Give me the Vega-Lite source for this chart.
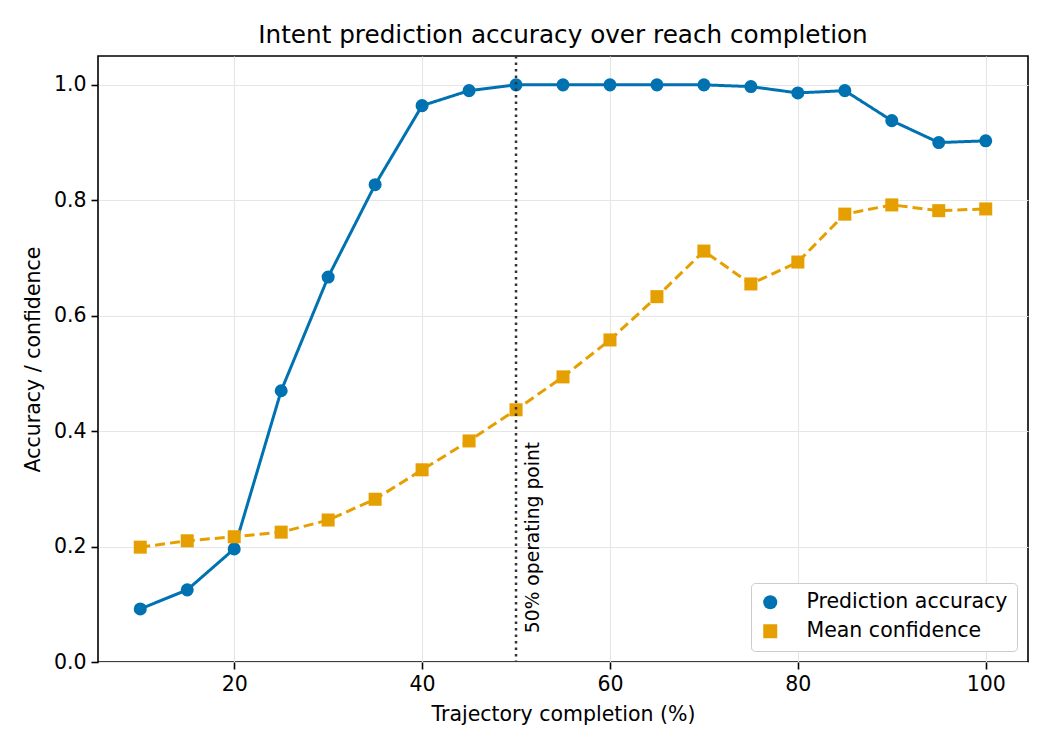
{
  "$schema": "https://vega.github.io/schema/vega-lite/v6.json",
  "width": 930,
  "height": 606,
  "autosize": "none",
  "padding": {"left": 98, "top": 56, "right": 22, "bottom": 88},
  "background": "white",
  "title": {"text": "Intent prediction accuracy over reach completion", "font": "DejaVu Sans", "fontSize": 24.7, "fontWeight": "normal", "color": "#000", "offset": 7},
  "config": {
    "font": "DejaVu Sans",
    "view": {"stroke": "#000", "strokeWidth": 1.6},
    "axis": {"labelFont": "DejaVu Sans", "titleFont": "DejaVu Sans", "labelFontSize": 20.5, "titleFontSize": 20.5, "titleFontWeight": "normal", "labelColor": "#000", "titleColor": "#000", "tickColor": "#000", "tickWidth": 1.6, "domain": false, "gridColor": "#e6e6e6", "gridWidth": 1.2, "tickSize": 7, "labelPadding": 5},
    "legend": {"labelFont": "DejaVu Sans", "labelFontSize": 20.5, "labelColor": "#000", "labelLimit": 400, "orient": "bottom-right", "offset": 11, "symbolSize": 196, "symbolStrokeWidth": 0, "strokeColor": "#cccccc", "fillColor": "white", "padding": 9, "cornerRadius": 4, "rowPadding": 8, "symbolOpacity": 1, "labelOffset": 26}
  },
  "data": {"values": [
    {"x": 10, "y": 0.092, "series": "Prediction accuracy"},
    {"x": 15, "y": 0.125, "series": "Prediction accuracy"},
    {"x": 20, "y": 0.196, "series": "Prediction accuracy"},
    {"x": 25, "y": 0.470, "series": "Prediction accuracy"},
    {"x": 30, "y": 0.667, "series": "Prediction accuracy"},
    {"x": 35, "y": 0.827, "series": "Prediction accuracy"},
    {"x": 40, "y": 0.964, "series": "Prediction accuracy"},
    {"x": 45, "y": 0.990, "series": "Prediction accuracy"},
    {"x": 50, "y": 1.0, "series": "Prediction accuracy"},
    {"x": 55, "y": 1.0, "series": "Prediction accuracy"},
    {"x": 60, "y": 1.0, "series": "Prediction accuracy"},
    {"x": 65, "y": 1.0, "series": "Prediction accuracy"},
    {"x": 70, "y": 1.0, "series": "Prediction accuracy"},
    {"x": 75, "y": 0.997, "series": "Prediction accuracy"},
    {"x": 80, "y": 0.986, "series": "Prediction accuracy"},
    {"x": 85, "y": 0.990, "series": "Prediction accuracy"},
    {"x": 90, "y": 0.938, "series": "Prediction accuracy"},
    {"x": 95, "y": 0.900, "series": "Prediction accuracy"},
    {"x": 100, "y": 0.903, "series": "Prediction accuracy"},
    {"x": 10, "y": 0.199, "series": "Mean confidence"},
    {"x": 15, "y": 0.210, "series": "Mean confidence"},
    {"x": 20, "y": 0.217, "series": "Mean confidence"},
    {"x": 25, "y": 0.225, "series": "Mean confidence"},
    {"x": 30, "y": 0.246, "series": "Mean confidence"},
    {"x": 35, "y": 0.282, "series": "Mean confidence"},
    {"x": 40, "y": 0.333, "series": "Mean confidence"},
    {"x": 45, "y": 0.383, "series": "Mean confidence"},
    {"x": 50, "y": 0.437, "series": "Mean confidence"},
    {"x": 55, "y": 0.494, "series": "Mean confidence"},
    {"x": 60, "y": 0.558, "series": "Mean confidence"},
    {"x": 65, "y": 0.633, "series": "Mean confidence"},
    {"x": 70, "y": 0.712, "series": "Mean confidence"},
    {"x": 75, "y": 0.655, "series": "Mean confidence"},
    {"x": 80, "y": 0.693, "series": "Mean confidence"},
    {"x": 85, "y": 0.776, "series": "Mean confidence"},
    {"x": 90, "y": 0.792, "series": "Mean confidence"},
    {"x": 95, "y": 0.782, "series": "Mean confidence"},
    {"x": 100, "y": 0.785, "series": "Mean confidence"}
  ]},
  "encoding": {
    "x": {"field": "x", "type": "quantitative", "scale": {"domain": [5.5, 104.5], "nice": false, "zero": false}, "axis": {"values": [20, 40, 60, 80, 100], "title": "Trajectory completion (%)", "titlePadding": 10}},
    "y": {"field": "y", "type": "quantitative", "scale": {"domain": [0, 1.05], "nice": false}, "axis": {"values": [0, 0.2, 0.4, 0.6, 0.8, 1.0], "format": ".1f", "title": "Accuracy / confidence", "titlePadding": 10}}
  },
  "layer": [
    {
      "mark": {"type": "line", "strokeWidth": 3},
      "encoding": {
        "color": {"field": "series", "type": "nominal", "scale": {"domain": ["Prediction accuracy", "Mean confidence"], "range": ["#0072B2", "#E69F00"]}, "legend": {"title": null}},
        "strokeDash": {"field": "series", "type": "nominal", "scale": {"domain": ["Prediction accuracy", "Mean confidence"], "range": [[1, 0], [10, 5]]}, "legend": {"title": null}}
      }
    },
    {
      "mark": {"type": "point", "filled": true, "opacity": 1, "size": 170},
      "encoding": {
        "color": {"field": "series", "type": "nominal", "scale": {"domain": ["Prediction accuracy", "Mean confidence"], "range": ["#0072B2", "#E69F00"]}, "legend": {"title": null}},
        "shape": {"field": "series", "type": "nominal", "scale": {"domain": ["Prediction accuracy", "Mean confidence"], "range": ["circle", "square"]}, "legend": {"title": null}}
      }
    },
    {
      "data": {"values": [{"x": 50}]},
      "mark": {"type": "rule", "color": "#333", "strokeWidth": 2.5, "strokeDash": [2.5, 4]},
      "encoding": {"x": {"field": "x", "type": "quantitative"}, "y": null}
    },
    {
      "data": {"values": [{"x": 50.8, "y": 0.05, "label": "50% operating point"}]},
      "mark": {"type": "text", "angle": 270, "align": "left", "baseline": "top", "fontSize": 18.7, "font": "DejaVu Sans", "color": "#000"},
      "encoding": {"x": {"field": "x", "type": "quantitative"}, "y": {"field": "y", "type": "quantitative"}, "text": {"field": "label"}}
    }
  ]
}
